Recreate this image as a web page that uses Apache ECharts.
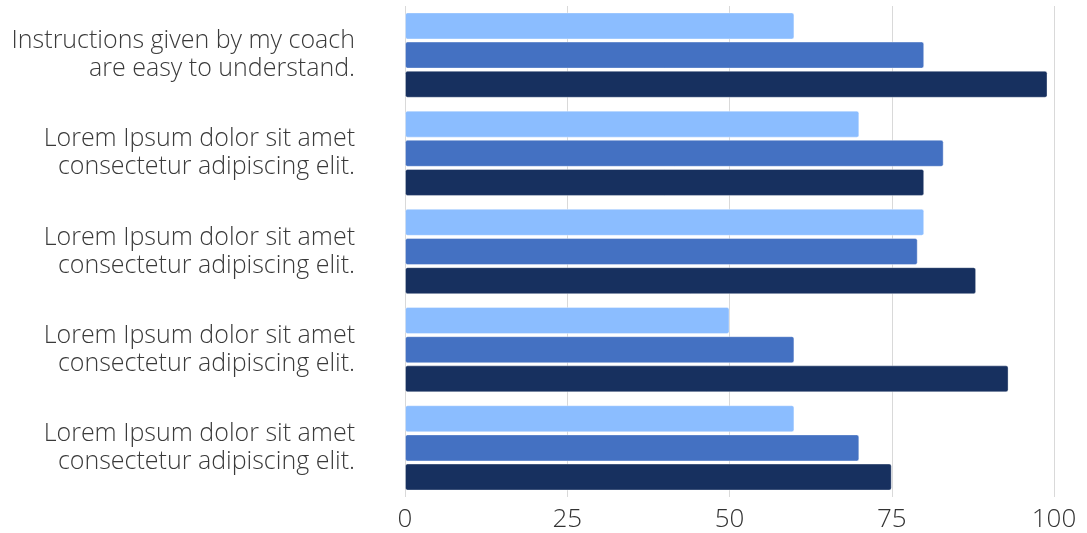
<!DOCTYPE html>
<html><head><meta charset="utf-8">
<script src="https://cdn.jsdelivr.net/npm/echarts@6/dist/echarts.min.js"></script>
<style>html,body{margin:0;padding:0;background:#fff}#c{width:1087px;height:533px}</style>
</head><body><div id="c"></div>
<script>
var categories = [
  "Instructions given by my coach\nare easy to understand.",
  "Lorem Ipsum dolor sit amet\nconsectetur adipiscing elit.",
  "Lorem Ipsum dolor sit amet\nconsectetur adipiscing elit.",
  "Lorem Ipsum dolor sit amet\nconsectetur adipiscing elit.",
  "Lorem Ipsum dolor sit amet\nconsectetur adipiscing elit."
];
var seriesLight = [60, 70, 80, 50, 60];
var seriesMid = [80, 83, 79, 60, 70];
var seriesDark = [99, 80, 88, 93, 75];
var xTicks = [0, 25, 50, 75, 100];

var colors = ['#8bbdff', '#4471c2', '#17305f'];
function mk(name, data, c) {
  return {
    name: name, type: 'bar', data: data, barWidth: 27, barGap: '8%',
    itemStyle: { color: c, borderRadius: 2, borderColor: 'rgba(255,255,255,0.35)', borderWidth: 1 }
  };
}
var chart = echarts.init(document.getElementById('c'), null, {renderer: 'canvas'});
chart.setOption({
  animation: false,
  grid: { left: 405, right: 33, top: 6, bottom: 36, containLabel: false },
  xAxis: {
    type: 'value', min: xTicks[0], max: xTicks[xTicks.length - 1], interval: 25,
    axisLine: { show: false }, axisTick: { show: false },
    splitLine: { show: true, lineStyle: { color: '#d9d9d9', width: 1 } },
    axisLabel: { fontFamily: 'Open Sans', fontWeight: 300, fontSize: 26, color: '#333', margin: 10 }
  },
  yAxis: {
    type: 'category', data: categories, inverse: true,
    axisLine: { show: false }, axisTick: { show: false },
    axisLabel: { fontFamily: 'Open Sans', fontWeight: 300, fontSize: 25, color: '#3a3a3a', lineHeight: 28, margin: 50, align: 'right' }
  },
  series: [mk('A', seriesLight, colors[0]), mk('B', seriesMid, colors[1]), mk('C', seriesDark, colors[2])]
});
</script></body></html>
